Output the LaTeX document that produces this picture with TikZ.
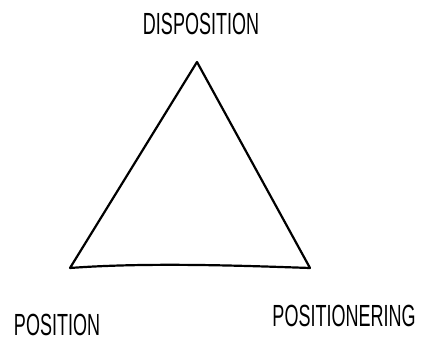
\documentclass[tikz,border=0pt]{standalone}
\usepackage{fontspec}
\setmainfont{Liberation Sans}
\usetikzlibrary{positioning}
\tikzset{
  edge/.style={draw=black,line width=2.2pt,line join=round,line cap=round},
  lbl/.style={inner sep=0pt,font=\fontsize{18}{20}\selectfont},
}
\newcommand{\tall}[1]{\scalebox{1}[1.7]{#1}}

\begin{document}
\begin{tikzpicture}[x=1pt,y=1pt]
  \useasboundingbox (0,0) rectangle (423,342);
  % --- corners ---
  \coordinate (top)   at (197,280);
  \coordinate (left)  at (70,74);
  \coordinate (right) at (310,74);
  % --- labels ---
  \node[lbl] (disp) at (201,318) {\tall{DISPOSITION}};
  \node[lbl] (pos)  at (57,17)   {\tall{POSITION}};
  \node[lbl] (posr) at (344,26)  {\tall{POSITIONERING}};
  % --- triangle ---
  \draw[edge] (left) -- (top) -- (right)
              .. controls (250,76) and (150,80) .. (left);
\end{tikzpicture}
\end{document}
